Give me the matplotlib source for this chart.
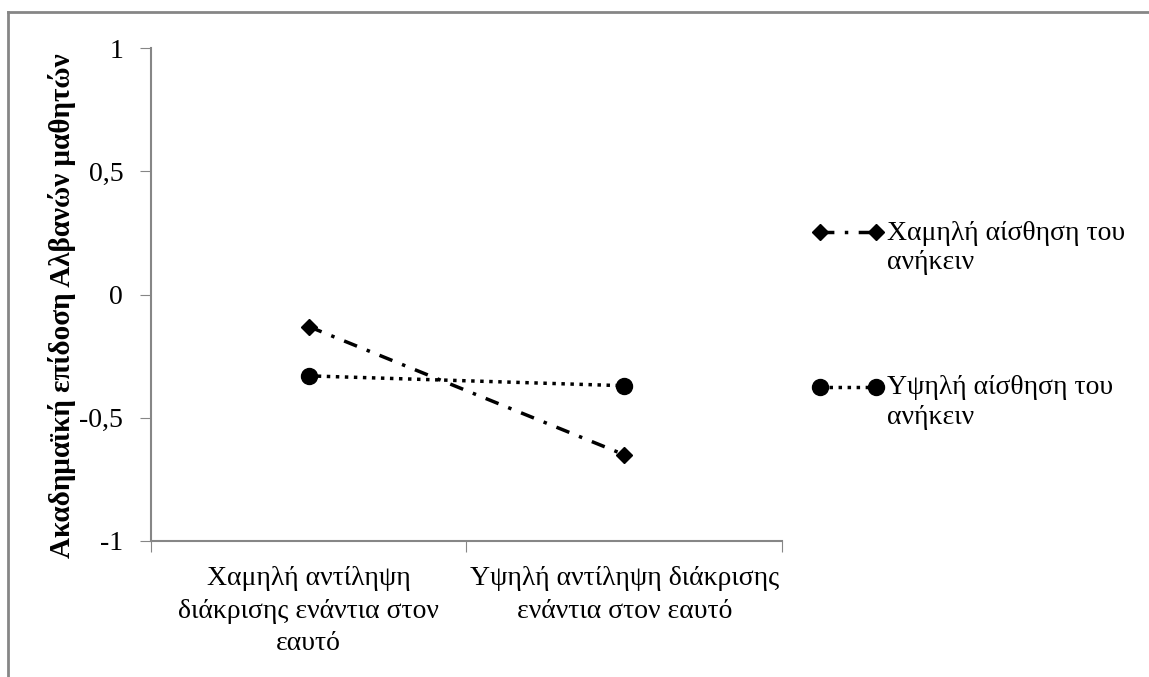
import matplotlib.pyplot as plt
from matplotlib.lines import Line2D

plt.rcParams['font.family'] = ['Liberation Serif', 'DejaVu Serif']

categories = ['Χαμηλή αντίληψη\nδιάκρισης ενάντια στον\nεαυτό',
              'Υψηλή αντίληψη διάκρισης\nενάντια στον εαυτό']
low_belonging = [-0.13, -0.65]
high_belonging = [-0.33, -0.37]
series_labels = ['Χαμηλή αίσθηση του\nανήκειν', 'Υψηλή αίσθηση του\nανήκειν']
y_ticks = [-1, -0.5, 0, 0.5, 1]
y_ticklabels = ['-1', '-0,5', '0', '0,5', '1']
y_label = 'Ακαδημαϊκή επίδοση Αλβανών μαθητών'

fig = plt.figure(figsize=(11.49, 6.77), dpi=100)
ax = fig.add_axes([0.1314, 0.2009, 0.5492, 0.7281])

xpos = [0.5, 1.5]
l1, = ax.plot(xpos, low_belonging, color='black', lw=2.5, dashes=(4, 3, 1, 3),
              marker='D', markersize=8)
l2, = ax.plot(xpos, high_belonging, color='black', lw=2.5, linestyle=(0, (1, 1.6)),
              marker='o', markersize=11.5)

ax.set_xlim(0, 2)
ax.set_ylim(-1, 1)
ax.set_yticks(y_ticks)
ax.set_yticklabels(y_ticklabels, fontsize=20)
ax.set_xticks([0, 1, 2])
ax.set_xticklabels([])
ax.set_xticks(xpos, minor=True)
ax.set_xticklabels(categories, minor=True, fontsize=20, linespacing=1.4)
ax.tick_params(axis='x', which='minor', length=0, pad=18)
ax.tick_params(axis='x', which='major', length=8, color='#868686', direction='out')
ax.tick_params(axis='y', length=8, color='#868686', direction='out', pad=12)

for s in ['top', 'right']:
    ax.spines[s].set_visible(False)
for s in ['left', 'bottom']:
    ax.spines[s].set_color('#868686')
    ax.spines[s].set_linewidth(1.5)

ax.set_ylabel(y_label, fontsize=21, fontweight='bold')
ax.yaxis.set_label_coords(-0.119, 0.477)

leg = ax.legend([l1, l2], series_labels, loc='upper left', bbox_to_anchor=(1.047, 0.65),
                frameon=False, fontsize=20, numpoints=2, handlelength=2.6,
                handletextpad=0.1, labelspacing=3.6, borderaxespad=0, borderpad=0)
for t in leg.get_texts():
    t.set_linespacing(1.25)
# put the legend symbol on the first line of each label, as in the reference
for ln in leg.get_lines():
    ln.set_ydata([y + 11 for y in ln.get_ydata()])

# figure border (left and top only)
fig.add_artist(Line2D([8 / 1149, 8 / 1149], [0, 1 - 12 / 677], transform=fig.transFigure,
                      color='#868686', lw=2))
fig.add_artist(Line2D([8 / 1149, 1], [1 - 12 / 677, 1 - 12 / 677], transform=fig.transFigure,
                      color='#868686', lw=2))

fig.savefig('out.png', dpi=100)
